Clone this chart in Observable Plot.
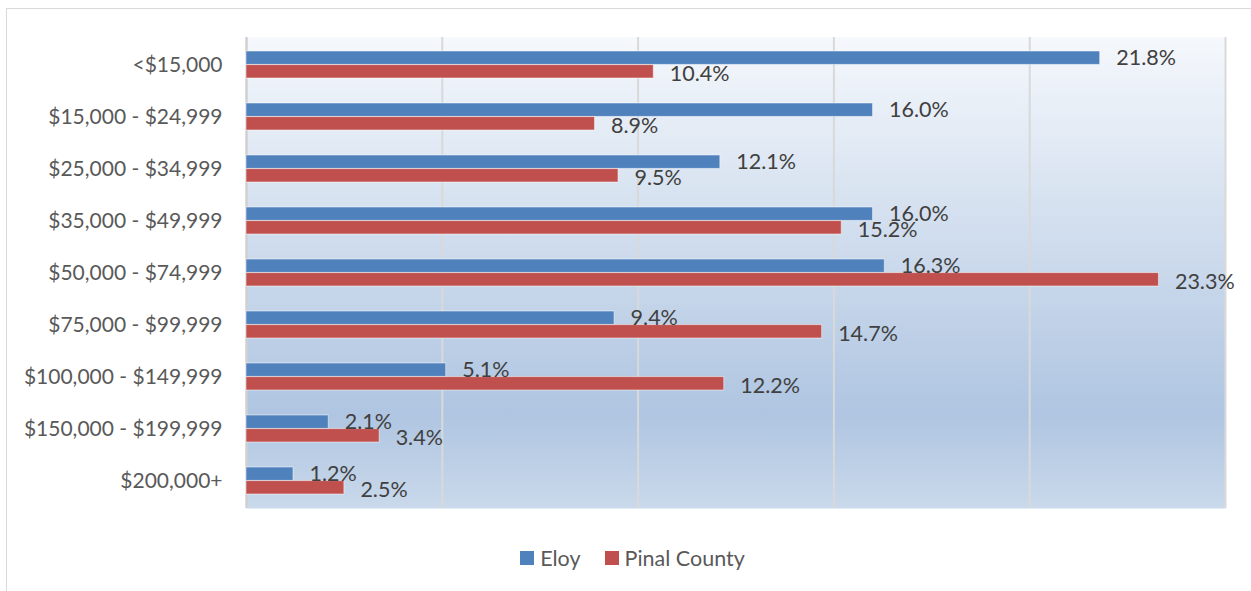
<!DOCTYPE html>
<html>
<head>
<meta charset="utf-8">
<script src="https://cdn.jsdelivr.net/npm/d3@7"></script>
<script src="https://cdn.jsdelivr.net/npm/@observablehq/plot@0.6"></script>
<style>
  html, body { margin: 0; padding: 0; background: #fff; }
  body { width: 1251px; height: 591px; position: relative; overflow: hidden; font-family: Lato, "Open Sans", sans-serif; }
  #frame { position: absolute; left: 6px; top: 8px; width: 1260px; height: 600px; border: 1.5px solid #d9d9d9; box-sizing: border-box; }
  #chart { position: absolute; left: 0; top: 0; }
  #legend { position: absolute; left: 0; top: 545px; width: 1251px; display: flex; justify-content: center; gap: 24px; font-size: 21.5px; color: #595959; padding-left: 14px; box-sizing: border-box; }
  .sw { display: inline-flex; align-items: center; gap: 6px; }
  .sq { width: 14px; height: 14px; display: inline-block; }
</style>
</head>
<body>
<div id="frame"></div>
<div id="chart"></div>
<div id="legend"></div>
<script>
const categories = ["<$15,000", "$15,000 - $24,999", "$25,000 - $34,999", "$35,000 - $49,999", "$50,000 - $74,999", "$75,000 - $99,999", "$100,000 - $149,999", "$150,000 - $199,999", "$200,000+"];
const seriesNames = ["Eloy", "Pinal County"];
const eloy = [21.8, 16.0, 12.1, 16.0, 16.3, 9.4, 5.1, 2.1, 1.2];
const pinal = [10.4, 8.9, 9.5, 15.2, 23.3, 14.7, 12.2, 3.4, 2.5];
const gridTicks = [5, 10, 15, 20, 25];
const colors = ["#4f81bd", "#c0504d"];

const eloyData = categories.map((c, i) => ({category: c, value: eloy[i]}));
const pinalData = categories.map((c, i) => ({category: c, value: pinal[i]}));

const H = 520, mTop = 37, mBottom = H - 508;
const step = (508 - 37) / categories.length;
const bandW = step * 0.52;
const half = bandW / 2;

const plot = Plot.plot({
  width: 1251,
  height: H,
  marginLeft: 246,
  marginRight: 26,
  marginTop: mTop,
  marginBottom: mBottom,
  style: {fontFamily: "Lato, 'Open Sans', sans-serif", fontSize: "21px", background: "transparent", overflow: "visible"},
  x: {domain: [0, 25], axis: null},
  y: {domain: categories, paddingInner: 0.48, paddingOuter: 0.24, label: null, tickSize: 0, tickPadding: 24},
  marks: [
    Plot.frame({fill: "url(#bgGrad)", stroke: null}),
    Plot.ruleX(gridTicks, {stroke: "#d9d9d9", strokeWidth: 2, strokeOpacity: 1}),
    Plot.ruleX([0], {stroke: "#d0d0d0", strokeWidth: 2.5}),
    Plot.barX(eloyData, {x: "value", y: "category", fill: colors[0], insetBottom: half, stroke: "#ffffff", strokeOpacity: 0.5, strokeWidth: 1}),
    Plot.barX(pinalData, {x: "value", y: "category", fill: colors[1], insetTop: half, stroke: "#ffffff", strokeOpacity: 0.5, strokeWidth: 1}),
    Plot.text(eloyData, {x: "value", y: "category", text: d => d.value.toFixed(1) + "%", textAnchor: "start", dx: 16, dy: -half / 2, fill: "#404040", fontSize: 21.5}),
    Plot.text(pinalData, {x: "value", y: "category", text: d => d.value.toFixed(1) + "%", textAnchor: "start", dx: 16, dy: half / 2 + 2, fill: "#404040", fontSize: 21.5}),
    Plot.axisY({tickSize: 0, tickPadding: 24, fill: "#595959", fontSize: 21, label: null})
  ]
});

const svg = d3.select(plot);
const defs = svg.insert("defs", ":first-child");
const g = defs.append("linearGradient").attr("id", "bgGrad").attr("x1", 0).attr("y1", 0).attr("x2", 0).attr("y2", 1);
g.append("stop").attr("offset", "0%").attr("stop-color", "#f5f8fc");
g.append("stop").attr("offset", "80%").attr("stop-color", "#afc5e1");
g.append("stop").attr("offset", "100%").attr("stop-color", "#cad9eb");

document.getElementById("chart").appendChild(plot);

const legend = d3.select("#legend");
seriesNames.forEach((name, i) => {
  const item = legend.append("span").attr("class", "sw");
  item.append("span").attr("class", "sq").style("background", colors[i]);
  item.append("span").text(name);
});
</script>
</body>
</html>
